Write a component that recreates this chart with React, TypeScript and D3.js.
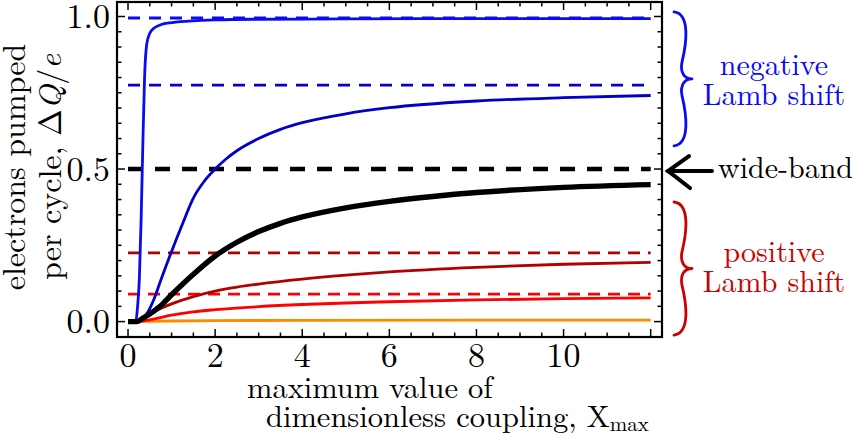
import * as d3 from 'd3';

// curves: x = maximum dimensionless coupling
const fastBlueX = [0, 0.1, 0.18, 0.22, 0.26, 0.3, 0.34, 0.38, 0.43, 0.5, 0.6, 0.75, 1, 1.4, 2, 3, 5, 8, 12];
const fastBlueY = [0, 0, 0.005, 0.05, 0.14, 0.33, 0.58, 0.8, 0.91, 0.945, 0.962, 0.973, 0.98, 0.985, 0.989, 0.991, 0.992, 0.993, 0.993];

const slowBlueX = [0, 0.2, 0.3, 0.45, 0.6, 0.75, 1, 1.25, 1.5, 1.75, 2, 2.25, 2.5, 3, 3.5, 4, 5, 6, 8, 10, 12];
const slowBlueY = [0, 0, 0.005, 0.03, 0.075, 0.135, 0.23, 0.32, 0.405, 0.46, 0.5, 0.533, 0.56, 0.6, 0.63, 0.652, 0.681, 0.701, 0.723, 0.734, 0.741];

const wideBandX = [0, 0.2, 0.35, 0.5, 0.75, 1, 1.27, 1.5, 2, 2.5, 3, 3.5, 4, 5, 6, 7, 8, 10, 12];
const wideBandY = [0, 0, 0.012, 0.025, 0.052, 0.088, 0.125, 0.155, 0.215, 0.26, 0.295, 0.322, 0.343, 0.373, 0.394, 0.41, 0.423, 0.44, 0.449];

const darkRedX = [0, 0.15, 0.35, 0.6, 1, 1.5, 2, 2.5, 3, 4, 5, 6, 8, 10, 12];
const darkRedY = [0, 0, 0.014, 0.033, 0.058, 0.082, 0.1, 0.113, 0.123, 0.139, 0.152, 0.163, 0.178, 0.188, 0.194];

const redX = [0, 0.2, 0.5, 1, 1.5, 2, 3, 4, 5, 6, 8, 10, 12];
const redY = [0, 0, 0.006, 0.021, 0.032, 0.039, 0.049, 0.056, 0.061, 0.065, 0.071, 0.075, 0.078];

const orangeX = [0, 0.2, 0.5, 1, 2, 4, 8, 12];
const orangeY = [0, 0, 0.001, 0.002, 0.003, 0.004, 0.005, 0.005];

// dashed limits (large-coupling values)
const limitLevels = [0.995, 0.775, 0.5, 0.225, 0.09];

const xTickLabels = [0, 2, 4, 6, 8, 10];
const yTickLabels = ['0.0', '0.5', '1.0'];

const W = 852;
const H = 435;
const frame = { left: 117, right: 662, top: 2, bottom: 337 };
const tf = { fontFamily: "'Latin Modern Roman', 'Liberation Serif', serif" };

const BLUE = '#0a0af5';
const DARKBLUE = '#0000c8';
const DARKRED = '#b00000';
const RED = '#ff0000';
const ORANGE = '#ff8a00';
const TEXTRED = '#cc0000';

export default function App() {
  const x = d3.scaleLinear().domain([-0.253, 12.26]).range([frame.left, frame.right]);
  const y = d3.scaleLinear().domain([-0.0505, 1.0475]).range([frame.bottom, frame.top]);

  const line = d3
    .line<[number, number]>()
    .x((d) => x(d[0]))
    .y((d) => y(d[1]))
    .curve(d3.curveMonotoneX);

  const pts = (xs: number[], ys: number[]) => xs.map((v, i) => [v, ys[i]] as [number, number]);

  const curves = [
    { d: pts(orangeX, orangeY), color: ORANGE, w: 2.8 },
    { d: pts(redX, redY), color: RED, w: 2.8 },
    { d: pts(darkRedX, darkRedY), color: DARKRED, w: 2.8 },
    { d: pts(slowBlueX, slowBlueY), color: DARKBLUE, w: 2.8 },
    { d: pts(fastBlueX, fastBlueY), color: BLUE, w: 2.8 },
    { d: pts(wideBandX, wideBandY), color: '#000', w: 5.4 },
  ];

  const dashStyles = [
    { color: BLUE, w: 2.8, dash: '12 9' },
    { color: DARKBLUE, w: 2.8, dash: '12 9' },
    { color: '#000', w: 4.4, dash: '15 12' },
    { color: DARKRED, w: 2.8, dash: '12 8' },
    { color: RED, w: 2.8, dash: '12 8' },
  ];

  const yTicks = d3.range(0, 1.0001, 0.05);
  const xTicks = d3.range(0, 12.0001, 0.5);
  const isMajorY = (v: number) => Math.abs(v * 2 - Math.round(v * 2)) < 1e-6;
  const isMajorX = (v: number) => Math.abs(v / 2 - Math.round(v / 2)) < 1e-6;

  // curly brace "}" from y0 (top) to y1 (bottom), opening at x0
  const brace = (x0: number, y0: number, y1: number) => {
    const ym = (y0 + y1) / 2;
    const h = (y1 - y0) / 2;
    const up = `M${x0},${y0} C${x0 + 17},${y0 + 2} ${x0 + 12},${y0 + h * 0.5} ${x0 + 8},${ym - h * 0.25}` +
      ` C${x0 + 6},${ym - h * 0.1} ${x0 + 10},${ym} ${x0 + 18},${ym}`;
    const down = `M${x0},${y1} C${x0 + 17},${y1 - 2} ${x0 + 12},${y1 - h * 0.5} ${x0 + 8},${ym + h * 0.25}` +
      ` C${x0 + 6},${ym + h * 0.1} ${x0 + 10},${ym} ${x0 + 18},${ym}`;
    return up + ' ' + down;
  };

  const arrowY = y(0.5);

  return (
    <svg width={W} height={H} style={{ position: 'absolute', left: 0, top: 0, background: '#fff' }}>
      <defs>
        <clipPath id="plot">
          <rect x={frame.left} y={frame.top} width={frame.right - frame.left} height={frame.bottom - frame.top} />
        </clipPath>
      </defs>

      <g clipPath="url(#plot)">
        {limitLevels.map((v, i) => (
          <line
            key={'lim' + i}
            x1={x(0)}
            x2={x(12)}
            y1={y(v)}
            y2={y(v)}
            stroke={dashStyles[i].color}
            strokeWidth={dashStyles[i].w}
            strokeDasharray={dashStyles[i].dash}
          />
        ))}
        {curves.map((c, i) => (
          <path key={'c' + i} d={line(c.d) || ''} fill="none" stroke={c.color} strokeWidth={c.w} strokeLinejoin="round" />
        ))}
      </g>

      {/* ticks on all four sides, pointing inward */}
      {yTicks.map((v) => {
        const len = isMajorY(v) ? 8 : 4.5;
        return (
          <g key={'yt' + v} stroke="#000" strokeWidth={1.5}>
            <line x1={frame.left} x2={frame.left + len} y1={y(v)} y2={y(v)} />
            <line x1={frame.right} x2={frame.right - len} y1={y(v)} y2={y(v)} />
          </g>
        );
      })}
      {xTicks.map((v) => {
        const len = isMajorX(v) ? 8 : 4.5;
        return (
          <g key={'xt' + v} stroke="#000" strokeWidth={1.5}>
            <line x1={x(v)} x2={x(v)} y1={frame.bottom} y2={frame.bottom - len} />
            <line x1={x(v)} x2={x(v)} y1={frame.top} y2={frame.top + len} />
          </g>
        );
      })}
      <rect
        x={frame.left}
        y={frame.top}
        width={frame.right - frame.left}
        height={frame.bottom - frame.top}
        fill="none"
        stroke="#000"
        strokeWidth={2.2}
      />

      {xTickLabels.map((v) => (
        <text key={'xl' + v} x={x(v)} y={367} textAnchor="middle" fontSize={34} style={tf}>
          {v}
        </text>
      ))}
      {yTickLabels.map((s) => (
        <text key={'yl' + s} x={110} y={y(+s)} dy="0.34em" textAnchor="end" fontSize={34} style={tf}>
          {s}
        </text>
      ))}

      {/* axis titles */}
      <text x={247} y={398} fontSize={30.5} style={tf}>maximum value of</text>
      <text x={266} y={427} fontSize={30.5} style={tf}>
        dimensionless coupling, X
        <tspan fontSize={21} dy={4}>max</tspan>
      </text>
      <text transform="translate(25,167) rotate(-90)" textAnchor="middle" fontSize={32} style={tf}>
        electrons pumped
      </text>
      <text transform="translate(61,167) rotate(-90)" textAnchor="middle" fontSize={32} style={tf}>
        per cycle, Δ<tspan fontStyle="italic">Q</tspan>/<tspan fontStyle="italic">e</tspan>
      </text>

      {/* annotations */}
      <path d={brace(674, y(1.015), y(0.576))} fill="none" stroke={BLUE} strokeWidth={2.8} strokeLinecap="round" />
      <text x={774} y={75} textAnchor="middle" fontSize={30} fill={BLUE} style={tf}>negative</text>
      <text x={774} y={105} textAnchor="middle" fontSize={30} fill={BLUE} style={tf}>Lamb shift</text>

      <g stroke="#000" strokeWidth={4} strokeLinecap="round" fill="none">
        <line x1={668} x2={712} y1={arrowY + 2} y2={arrowY + 2} />
        <path d={`M689,${arrowY - 13} Q675,${arrowY - 3} 668,${arrowY + 2} Q675,${arrowY + 7} 690,${arrowY + 19}`} />
      </g>
      <text x={718} y={178} fontSize={30} style={tf}>wide-band</text>

      <path d={brace(674, y(0.392), y(-0.044))} fill="none" stroke={TEXTRED} strokeWidth={2.8} strokeLinecap="round" />
      <text x={774} y={262} textAnchor="middle" fontSize={30} fill={TEXTRED} style={tf}>positive</text>
      <text x={774} y={292} textAnchor="middle" fontSize={30} fill={TEXTRED} style={tf}>Lamb shift</text>
    </svg>
  );
}
